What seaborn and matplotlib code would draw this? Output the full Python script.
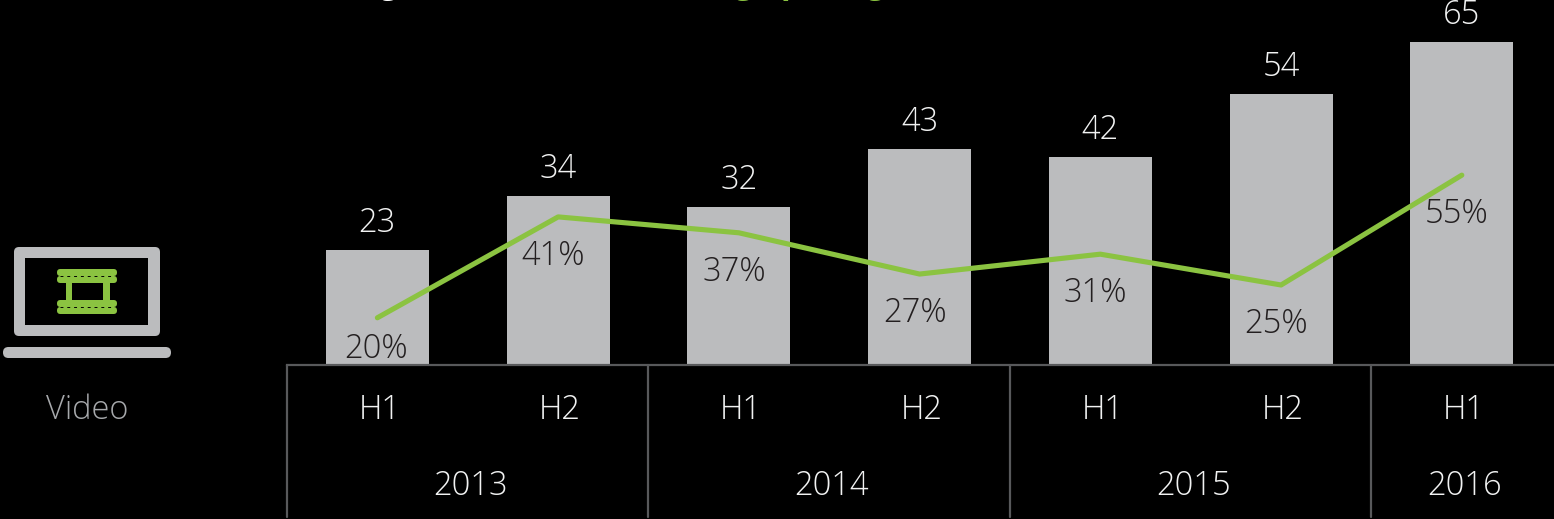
"""Video: bars per half year with share line, dark slide style."""

from __future__ import annotations

import matplotlib

matplotlib.use("Agg")

import matplotlib.pyplot as plt
import numpy as np
import pandas as pd
import seaborn as sns
from matplotlib.patches import FancyBboxPatch, Rectangle
from matplotlib.transforms import ScaledTranslation

periods = ["2013 H1", "2013 H2", "2014 H1", "2014 H2", "2015 H1", "2015 H2", "2016 H1"]
half_labels = ["H1", "H2", "H1", "H2", "H1", "H2", "H1"]
counts = [23, 34, 32, 43, 42, 54, 65]
# bars and line are not quite to scale with their labels, so both are read as heights
bar_level = [23.1, 34.0, 31.8, 43.5, 41.9, 54.5, 65.0]
share_labels = ["20%", "41%", "37%", "27%", "31%", "25%", "55%"]
line_level = [9.5, 29.8, 26.6, 18.3, 22.3, 16.1, 38.2]
years = ["2013", "2014", "2015", "2016"]
year_centers = [0.5, 2.5, 4.5, 6.0]
year_edges = [-0.5, 1.5, 3.5, 5.5]

BAR = "#bbbcbe"
GREEN = "#8bc341"
RULE = "#58595b"
TEXT = "#f1f2f2"
DARK = "#231f20"
FONT = "Open Sans"
WEIGHT = "light"
SIZE = 23.5

W, H = 1554, 519
BASE = 365  # pixel row of the baseline

sns.set_theme(style="white")
plt.rcParams["font.family"] = [FONT, "DejaVu Sans"]
plt.rcParams["font.weight"] = WEIGHT

fig = plt.figure(figsize=(W / 100, H / 100), dpi=100, facecolor="black")
ax = fig.add_axes([287 / W, (H - BASE) / H, (W - 287) / W, BASE / H], facecolor="none")


def px(dx: float, dy: float):
    return ScaledTranslation(dx / 100, dy / 100, fig.dpi_scale_trans)


df = pd.DataFrame({"period": periods, "level": bar_level})
sns.barplot(data=df, x="period", y="level", color=BAR, saturation=1, width=0.57, linewidth=0, ax=ax)
sns.lineplot(
    x=np.arange(len(line_level)),
    y=line_level,
    color=GREEN,
    lw=3.7,
    solid_capstyle="round",
    ax=ax,
)

ax.set_xlim(-0.5, 6.51)
ax.set_ylim(0, BASE / 4.97)
ax.set_xlabel("")
ax.set_ylabel("")
ax.set_yticks([])
ax.set_xticks(range(len(half_labels)))
ax.set_xticklabels(half_labels, fontsize=SIZE, color=TEXT, fontweight=WEIGHT)
ax.tick_params(axis="x", length=0, pad=20.7)
for label in ax.get_xticklabels():
    label.set_transform(label.get_transform() + px(2, 0))

for side in ["top", "right", "left"]:
    ax.spines[side].set_visible(False)
ax.spines["bottom"].set_color(RULE)
ax.spines["bottom"].set_linewidth(1.6)

trans = ax.get_xaxis_transform()
for edge in year_edges:
    ax.plot([edge, edge], [0, -152 / BASE], transform=trans, color=RULE, lw=1.6, clip_on=False)
for year, center in zip(years, year_centers):
    ax.annotate(
        year,
        xy=(center, 0),
        xycoords=trans,
        xytext=(2.0, -121 * 0.72),
        textcoords="offset points",
        ha="center",
        va="center",
        fontsize=SIZE,
        color=TEXT,
        fontweight=WEIGHT,
    )

for i, (value, level) in enumerate(zip(counts, bar_level)):
    ax.annotate(
        str(value),
        xy=(i, level),
        xytext=(0, 27 * 0.72),
        textcoords="offset points",
        ha="center",
        va="center",
        fontsize=SIZE,
        color=TEXT,
        fontweight=WEIGHT,
        annotation_clip=False,
    )

for i, (share, level) in enumerate(zip(share_labels, line_level)):
    shift = (-1, -31) if i == 0 else (-5, -39)
    ax.annotate(
        share,
        xy=(i, level),
        xytext=(shift[0] * 0.72, shift[1] * 0.72),
        textcoords="offset points",
        ha="center",
        va="center",
        fontsize=SIZE,
        color=DARK,
        fontweight=WEIGHT,
    )

# laptop icon, drawn in pixel coordinates on a full-figure layer
icon = fig.add_axes([0, 0, 1, 1], facecolor="none")
icon.set_xlim(0, W)
icon.set_ylim(H, 0)
icon.axis("off")


def rounded(x0, y0, x1, y1, r, color):
    icon.add_patch(
        FancyBboxPatch(
            (x0 + r, y0 + r),
            x1 - x0 - 2 * r,
            y1 - y0 - 2 * r,
            boxstyle=f"round,pad={r},rounding_size={r}",
            fc=color,
            ec="none",
        )
    )


rounded(14, 247, 160, 336, 5, BAR)
icon.add_patch(Rectangle((25, 258), 123, 67, fc="black", ec="none"))
rounded(3, 347, 171, 358, 5.4, BAR)
for top in [269, 276, 300, 307]:
    rounded(57, top, 117, top + 7, 3.4, GREEN)
icon.add_patch(Rectangle((66, 283), 5.5, 17, fc=GREEN, ec="none"))
icon.add_patch(Rectangle((103, 283), 7, 17, fc=GREEN, ec="none"))
for row in [276, 307]:
    icon.plot([60, 114], [row, row], color="black", lw=0.7, ls=(0, (3, 4)))

icon.text(87, 410, "Video", ha="center", va="center", fontsize=SIZE, color="#a7a9ac", fontweight=WEIGHT)

# the slide title is cropped off the top, only these descenders reach the picture
for x, glyph, color, weight in [
    (388, "g", "white", "normal"),
    (744, "g", GREEN, "bold"),
    (791, "p", GREEN, "bold"),
    (876, "g", GREEN, "bold"),
]:
    icon.text(x, -7, glyph, ha="center", va="baseline", fontsize=23, color=color, fontweight=weight)

fig.savefig("out.png", dpi=100, facecolor="black")
